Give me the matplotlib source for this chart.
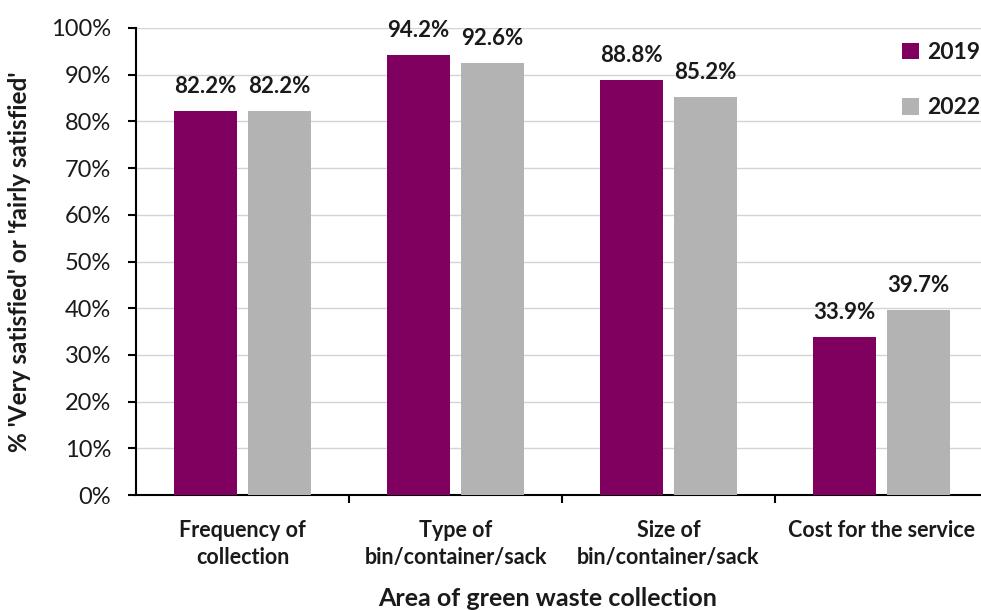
import matplotlib
matplotlib.use("Agg")
import matplotlib.pyplot as plt
import numpy as np

categories = ["Frequency of\ncollection", "Type of\nbin/container/sack",
              "Size of\nbin/container/sack", "Cost for the service"]
values_2019 = [82.2, 94.2, 88.8, 33.9]
values_2022 = [82.2, 92.6, 85.2, 39.7]
series_names = ["2019", "2022"]
yticks = [0, 10, 20, 30, 40, 50, 60, 70, 80, 90, 100]

plt.rcParams['font.family'] = ['Lato', 'DejaVu Sans']

fig = plt.figure(figsize=(9.81, 6.10), dpi=100)
W, H = 981, 610
ax = fig.add_axes([136 / W, (H - 495) / H, 852 / W, (495 - 28) / H])

x = np.arange(len(categories))
width = 0.296
off = 0.174
c19 = "#800060"
c22 = "#B3B3B3"
txt = "#1a1a1a"
b1 = ax.bar(x - off, values_2019, width, color=c19, label=series_names[0], zorder=3)
b2 = ax.bar(x + off, values_2022, width, color=c22, label=series_names[1], zorder=3)

for bars, vals in ((b1, values_2019), (b2, values_2022)):
    for b, v in zip(bars, vals):
        ax.text(b.get_x() + b.get_width() / 2, v + 3.0, f"{v:.1f}%", ha="center",
                va="bottom", fontsize=16, fontweight="bold", color=txt)

ax.set_xlim(-0.5, 3.5)
ax.set_ylim(0, 100)
ax.set_yticks(yticks)
ax.set_yticklabels([f"{t}%" for t in yticks], fontsize=17, color=txt)
ax.yaxis.grid(True, color="#D4D4D4", linewidth=1.0, zorder=0)
ax.set_xticks(x)
ax.set_xticklabels(categories, fontsize=15.5, fontweight="bold", color=txt,
                   linespacing=1.35)
ax.set_xticks([0.5, 1.5, 2.5], minor=True)
ax.tick_params(axis="x", which="major", length=0, pad=18)
ax.tick_params(axis="x", which="minor", length=6, width=1.5, direction="out")
ax.tick_params(axis="y", length=6, width=1.5, direction="out", pad=12)
for s in ("top", "right"):
    ax.spines[s].set_visible(False)
for s in ("left", "bottom"):
    ax.spines[s].set_linewidth(1.5)
    ax.spines[s].set_color("black")

fig.text(20 / W, 1 - 262 / H, "% 'Very satisfied' or 'fairly satisfied'", rotation=90,
         ha="center", va="center", fontsize=17.5, fontweight="bold", color=txt)
fig.text(548 / W, 1 - 598 / H, "Area of green waste collection",
         ha="center", va="center", fontsize=18, fontweight="bold", color=txt)

leg = ax.legend(loc="upper right", bbox_to_anchor=(0.999, 1 - 42 / H), frameon=False,
                prop={"weight": "bold", "size": 16.5}, handlelength=0.75,
                handleheight=0.75, handletextpad=0.35, labelspacing=1.5,
                borderaxespad=0, borderpad=0, bbox_transform=fig.transFigure)
for t in leg.get_texts():
    t.set_color(txt)

fig.savefig("out.png", dpi=100)
